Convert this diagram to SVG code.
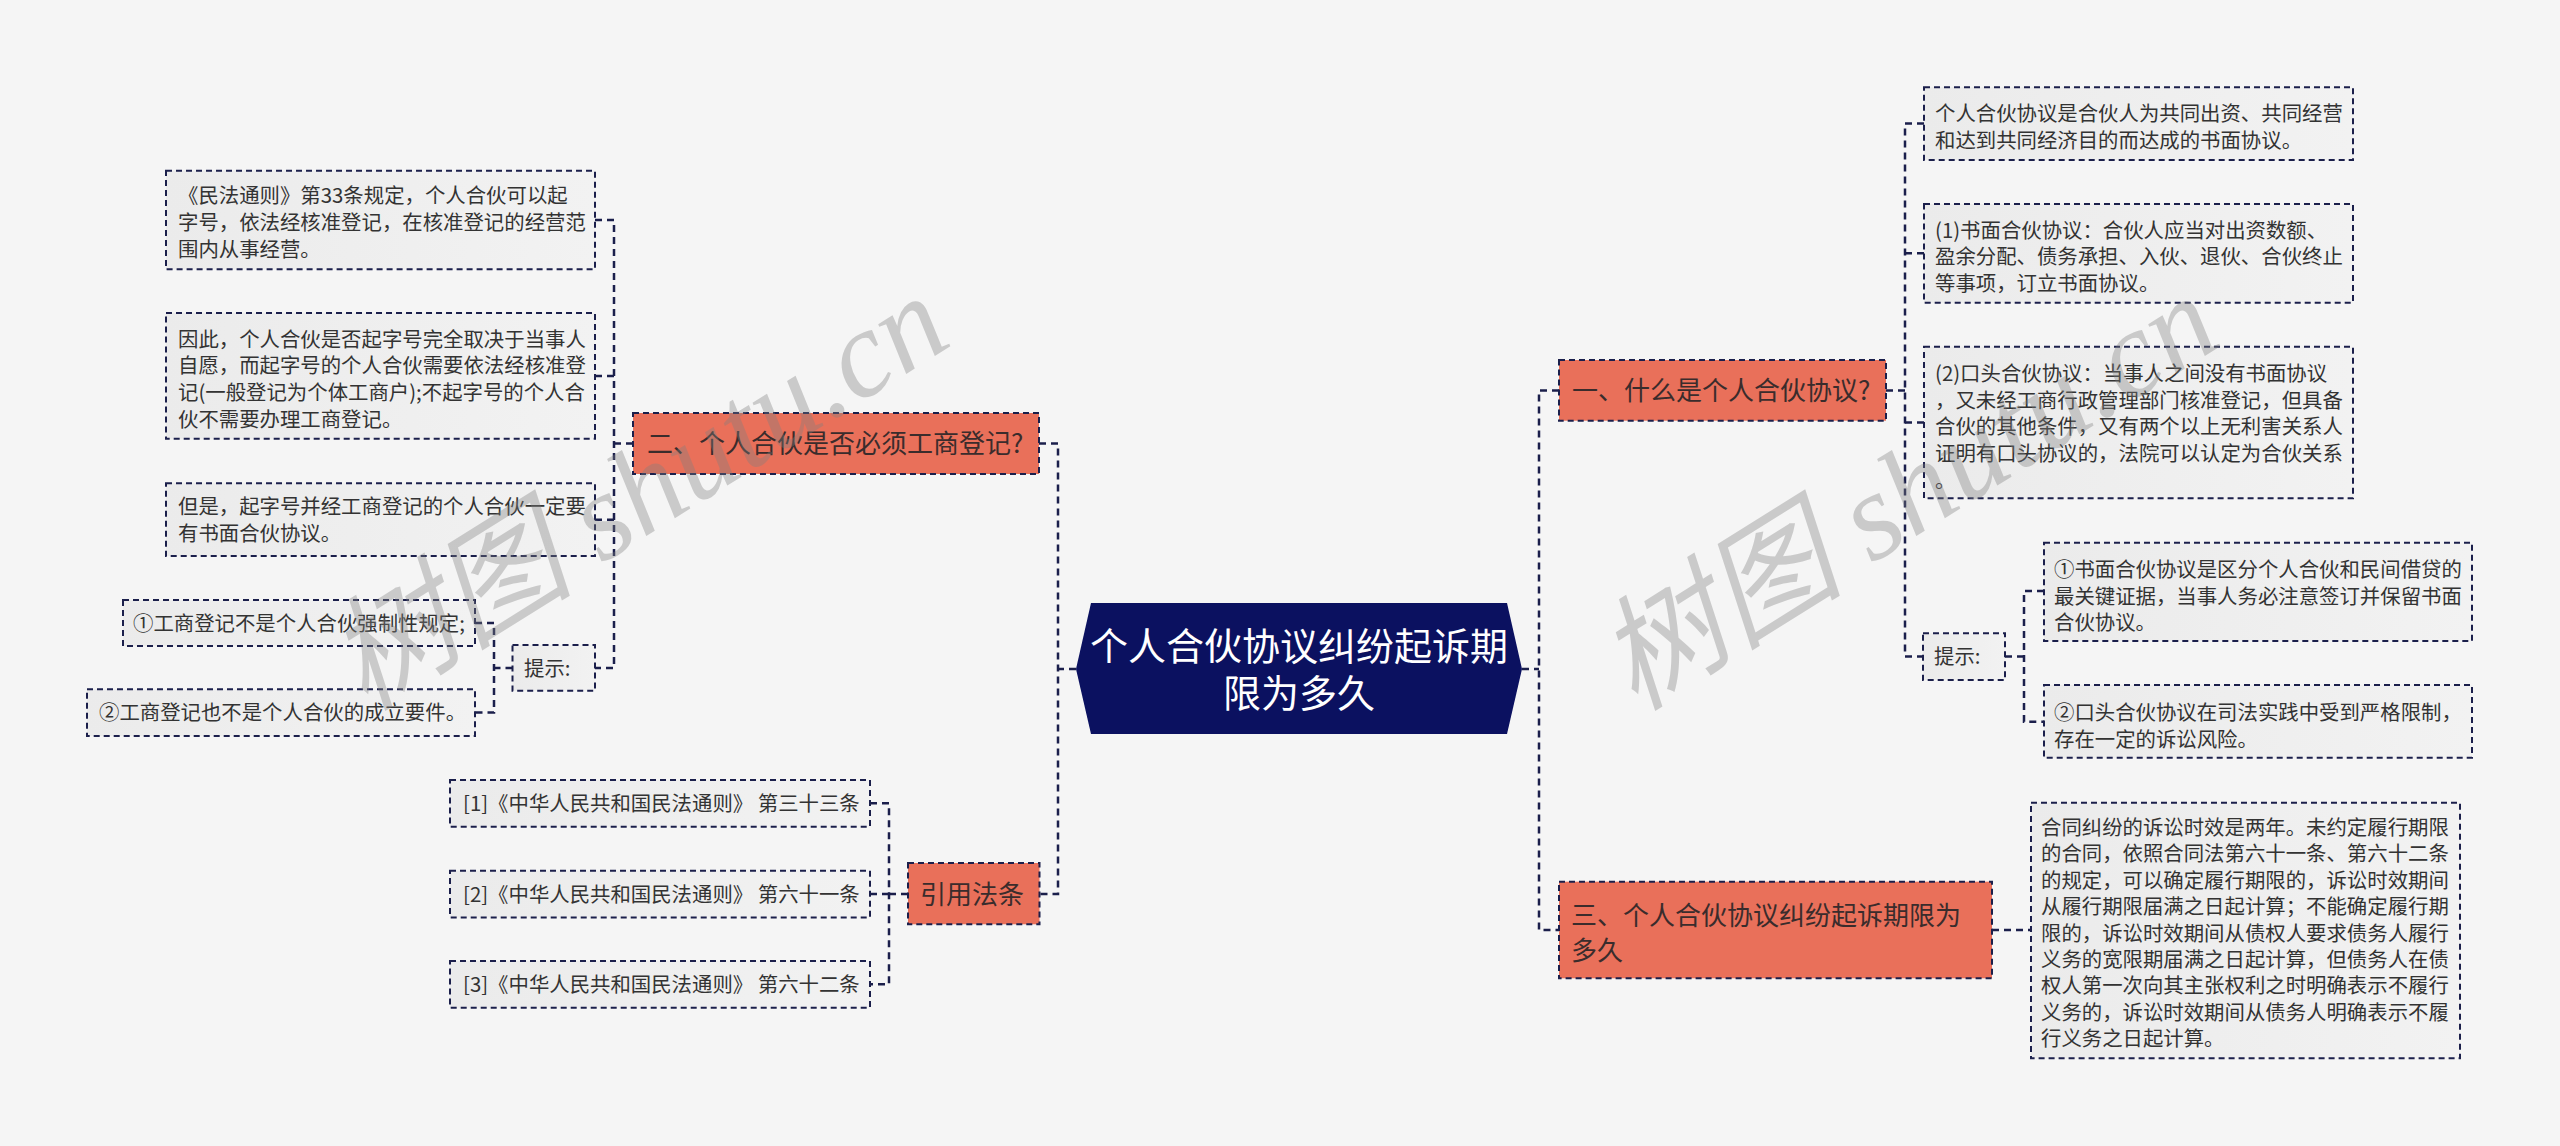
<svg xmlns="http://www.w3.org/2000/svg" width="2560" height="1146" viewBox="0 0 2560 1146">
<defs>
<linearGradient id="boxfill" x1="0" y1="0" x2="1" y2="0">
<stop offset="0" stop-color="#ebebeb"/>
<stop offset="1" stop-color="#f2f2f2"/>
</linearGradient>
</defs>
<style>
.conn{fill:none;stroke:#1b1f4b;stroke-width:2.5;stroke-dasharray:7 5}
.box{fill:url(#boxfill);stroke:#1b1f4b;stroke-width:2;stroke-dasharray:6 4}
.topic{fill:#e9705a;stroke:#1b1f4b;stroke-width:2;stroke-dasharray:6 4}
.t{font-family:"Noto Sans CJK SC","Noto Sans",sans-serif;font-size:20.4px;fill:#333}
.tt{font-family:"Noto Sans CJK SC","Noto Sans",sans-serif;font-size:26px;fill:#3a2c2c}
.tc{font-family:"Noto Sans CJK SC","Noto Sans",sans-serif;font-size:38px;fill:#ffffff;text-anchor:middle}
.wm{font-family:"Liberation Serif","Noto Sans CJK SC",serif;font-size:124px;font-style:italic;fill:#808080;opacity:0.36}
</style>
<rect x="0" y="0" width="2560" height="1146" fill="#f5f5f5"/>

<g id="connectors">
<path class="conn" d="M1076 669 H1058"/>
<path class="conn" d="M1039 443.5 H1058 V894 H1039.5"/>
<path class="conn" d="M633 443.5 H614"/>
<path class="conn" d="M595 220 H614 V668 H595"/>
<path class="conn" d="M595 376 H614"/>
<path class="conn" d="M595 519.7 H614"/>
<path class="conn" d="M512.5 668 H494"/>
<path class="conn" d="M475 623 H494 V712.5 H475"/>
<path class="conn" d="M908 894 H889"/>
<path class="conn" d="M870 803.3 H889 V984.3 H870"/>
<path class="conn" d="M870 894 H889"/>
<path class="conn" d="M1522 669 H1539"/>
<path class="conn" d="M1559 390.5 H1539 V930 H1559"/>
<path class="conn" d="M1886 390.5 H1905"/>
<path class="conn" d="M1924 123.5 H1905 V656.5 H1923"/>
<path class="conn" d="M1905 253.3 H1924"/>
<path class="conn" d="M1905 422.5 H1924"/>
<path class="conn" d="M2005 656.5 H2024"/>
<path class="conn" d="M2044 591 H2024 V721.7 H2044"/>
<path class="conn" d="M1992 930 H2031"/>
</g>

<g id="center">
<polygon points="1076,669 1091,603 1507,603 1522,669 1507,734 1091,734" fill="#0b1160"/>
<text class="tc"><tspan x="1299" y="660">个人合伙协议纠纷起诉期</tspan><tspan x="1299" y="707">限为多久</tspan></text>
</g>

<g id="topic2">
<rect class="topic" x="633" y="413" width="406" height="61"/>
<text class="tt" x="647" y="453">二、个人合伙是否必须工商登记?</text>
</g>
<g id="topic2-a">
<rect class="box" x="166" y="170.7" width="429" height="98.6"/>
<text class="t"><tspan x="178" y="203.3">《民法通则》第33条规定，个人合伙可以起</tspan><tspan x="178" y="230">字号，依法经核准登记，在核准登记的经营范</tspan><tspan x="178" y="256.7">围内从事经营。</tspan></text>
</g>
<g id="topic2-b">
<rect class="box" x="166" y="313" width="429" height="125.7"/>
<text class="t"><tspan x="178" y="346.6">因此，个人合伙是否起字号完全取决于当事人</tspan><tspan x="178" y="373.3">自愿，而起字号的个人合伙需要依法经核准登</tspan><tspan x="178" y="400">记(一般登记为个体工商户);不起字号的个人合</tspan><tspan x="178" y="426.7">伙不需要办理工商登记。</tspan></text>
</g>
<g id="topic2-c">
<rect class="box" x="166" y="483.3" width="429" height="72.7"/>
<text class="t"><tspan x="178" y="514.3">但是，起字号并经工商登记的个人合伙一定要</tspan><tspan x="178" y="541">有书面合伙协议。</tspan></text>
</g>
<g id="topic2-tip">
<rect class="box" x="512.5" y="645" width="82.5" height="45.7"/>
<text class="t" x="524" y="675.5">提示:</text>
</g>
<g id="topic2-tip1">
<rect class="box" x="123" y="600" width="352" height="46"/>
<text class="t" x="133" y="630.6">①工商登记不是个人合伙强制性规定;</text>
</g>
<g id="topic2-tip2">
<rect class="box" x="87" y="689.3" width="388" height="46.7"/>
<text class="t" x="99" y="720">②工商登记也不是个人合伙的成立要件。</text>
</g>

<g id="law">
<rect class="topic" x="908" y="863" width="131.5" height="61.3"/>
<text class="tt" x="920" y="903.6">引用法条</text>
</g>
<g id="law-1">
<rect class="box" x="450" y="780" width="420" height="46.7"/>
<text class="t" x="463" y="811">[1]《中华人民共和国民法通则》 第三十三条</text>
</g>
<g id="law-2">
<rect class="box" x="450" y="870.7" width="420" height="46.7"/>
<text class="t" x="463" y="901.6">[2]《中华人民共和国民法通则》 第六十一条</text>
</g>
<g id="law-3">
<rect class="box" x="450" y="961" width="420" height="46.7"/>
<text class="t" x="463" y="992">[3]《中华人民共和国民法通则》 第六十二条</text>
</g>

<g id="topic1">
<rect class="topic" x="1559" y="360" width="327" height="60.7"/>
<text class="tt" x="1572" y="400">一、什么是个人合伙协议?</text>
</g>
<g id="topic1-a">
<rect class="box" x="1924" y="87.3" width="429" height="72.7"/>
<text class="t"><tspan x="1935" y="121">个人合伙协议是合伙人为共同出资、共同经营</tspan><tspan x="1935" y="147.7">和达到共同经济目的而达成的书面协议。</tspan></text>
</g>
<g id="topic1-b">
<rect class="box" x="1924" y="204" width="429" height="98.7"/>
<text class="t"><tspan x="1935" y="237.6">(1)书面合伙协议：合伙人应当对出资数额、</tspan><tspan x="1935" y="264.3">盈余分配、债务承担、入伙、退伙、合伙终止</tspan><tspan x="1935" y="291">等事项，订立书面协议。</tspan></text>
</g>
<g id="topic1-c">
<rect class="box" x="1924" y="346.7" width="429" height="151.6"/>
<text class="t"><tspan x="1935" y="381">(2)口头合伙协议：当事人之间没有书面协议</tspan><tspan x="1935" y="407.7">，又未经工商行政管理部门核准登记，但具备</tspan><tspan x="1935" y="434.4">合伙的其他条件，又有两个以上无利害关系人</tspan><tspan x="1935" y="461">证明有口头协议的，法院可以认定为合伙关系</tspan><tspan x="1935" y="487.8">。</tspan></text>
</g>
<g id="topic1-tip">
<rect class="box" x="1923" y="633.3" width="82" height="46.7"/>
<text class="t" x="1934" y="664">提示:</text>
</g>
<g id="topic1-tip1">
<rect class="box" x="2044" y="542.7" width="428" height="98.3"/>
<text class="t"><tspan x="2054" y="577">①书面合伙协议是区分个人合伙和民间借贷的</tspan><tspan x="2054" y="603.6">最关键证据，当事人务必注意签订并保留书面</tspan><tspan x="2054" y="630.3">合伙协议。</tspan></text>
</g>
<g id="topic1-tip2">
<rect class="box" x="2044" y="685" width="428" height="72.7"/>
<text class="t"><tspan x="2054" y="720.3">②口头合伙协议在司法实践中受到严格限制，</tspan><tspan x="2054" y="747">存在一定的诉讼风险。</tspan></text>
</g>

<g id="topic3">
<rect class="topic" x="1559" y="881.7" width="433" height="96.6"/>
<text class="tt"><tspan x="1571" y="924.6">三、个人合伙协议纠纷起诉期限为</tspan><tspan x="1571" y="959.6">多久</tspan></text>
</g>
<g id="topic3-a">
<rect class="box" x="2031" y="802.7" width="429" height="255.6"/>
<text class="t"><tspan x="2041" y="835">合同纠纷的诉讼时效是两年。未约定履行期限</tspan><tspan x="2041" y="861.4">的合同，依照合同法第六十一条、第六十二条</tspan><tspan x="2041" y="887.8">的规定，可以确定履行期限的，诉讼时效期间</tspan><tspan x="2041" y="914.2">从履行期限届满之日起计算；不能确定履行期</tspan><tspan x="2041" y="940.6">限的，诉讼时效期间从债权人要求债务人履行</tspan><tspan x="2041" y="967">义务的宽限期届满之日起计算，但债务人在债</tspan><tspan x="2041" y="993.4">权人第一次向其主张权利之时明确表示不履行</tspan><tspan x="2041" y="1019.8">义务的，诉讼时效期间从债务人明确表示不履</tspan><tspan x="2041" y="1046.2">行义务之日起计算。</tspan></text>
</g>

<g id="watermarks">
<text class="wm" x="365" y="712" transform="rotate(-32 365 712)">树图 shutu.cn</text>
<text class="wm" x="1635" y="712" transform="rotate(-32 1635 712)">树图 shutu.cn</text>
</g>
</svg>
